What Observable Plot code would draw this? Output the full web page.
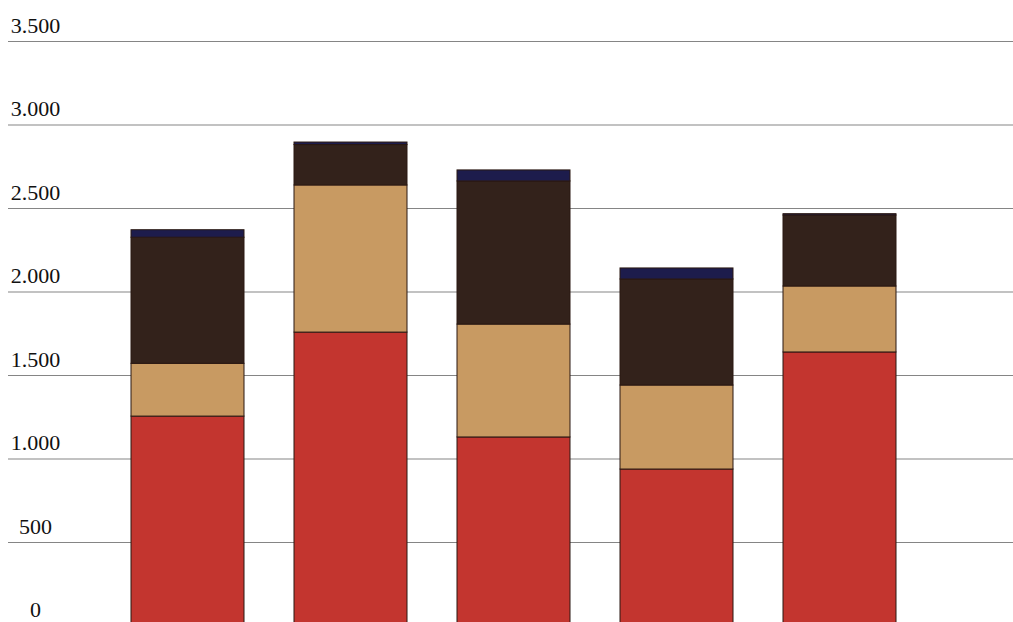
<!DOCTYPE html>
<html>
<head>
<meta charset="utf-8">
<script src="https://cdn.jsdelivr.net/npm/d3@7"></script>
<script src="https://cdn.jsdelivr.net/npm/@observablehq/plot@0.6"></script>
<style>
  html, body { margin: 0; padding: 0; background: #fff; overflow: hidden; }
  svg { display: block; }
</style>
</head>
<body>
<div id="chart"></div>
<script>
// Categories (bars) and stacked series (bottom to top)
const categories = ["1", "2", "3", "4", "5"];
const seriesNames = ["Serie 1", "Serie 2", "Serie 3", "Serie 4"];
const serie1 = [1254, 1757, 1129, 937, 1638];   // red (bottom)
const serie2 = [316, 881, 676, 503, 395];       // tan
const serie3 = [755, 242, 857, 635, 425];       // dark brown
const serie4 = [45, 15, 66, 66, 8];             // navy (top)
const yTicks = [0, 500, 1000, 1500, 2000, 2500, 3000, 3500];
const seriesColors = ["#c3352f", "#c89a62", "#33221b", "#1d1c4c"];

const allSeries = [serie1, serie2, serie3, serie4];
const data = [];
categories.forEach((c, i) => {
  allSeries.forEach((s, j) => data.push({cat: c, series: seriesNames[j], value: s[i]}));
});

const fmt = d3.formatLocale({decimal: ",", thousands: ".", grouping: [3], currency: ["", "€"]}).format(",d");

const chart = Plot.plot({
  width: 1013,
  height: 622,
  marginLeft: 8,
  marginRight: 0,
  marginTop: 0,
  marginBottom: 0,
  style: {background: "#fff", fontFamily: "'Liberation Serif', 'DejaVu Serif', serif"},
  x: {domain: categories, range: [79.7, 946.5], padding: 0.308, axis: null},
  y: {domain: [0, 3500], range: [625.5, 41], axis: null},
  color: {domain: seriesNames, range: seriesColors},
  marks: [
    Plot.ruleY(yTicks, {stroke: "#858585", strokeWidth: 1}),
    Plot.barY(data, Plot.stackY({x: "cat", y: "value", fill: "series", stroke: "#2a1812", strokeWidth: 1, inset: 0})),
    Plot.text(yTicks, {
      y: d => d,
      frameAnchor: "left",
      dx: 27,
      dy: -9,
      lineAnchor: "bottom",
      textAnchor: "middle",
      text: d => fmt(d),
      fontSize: 22,
      fill: "#111",
      style: "letter-spacing:-1.5px"
    })
  ]
});
document.getElementById("chart").appendChild(chart);
</script>
</body>
</html>
